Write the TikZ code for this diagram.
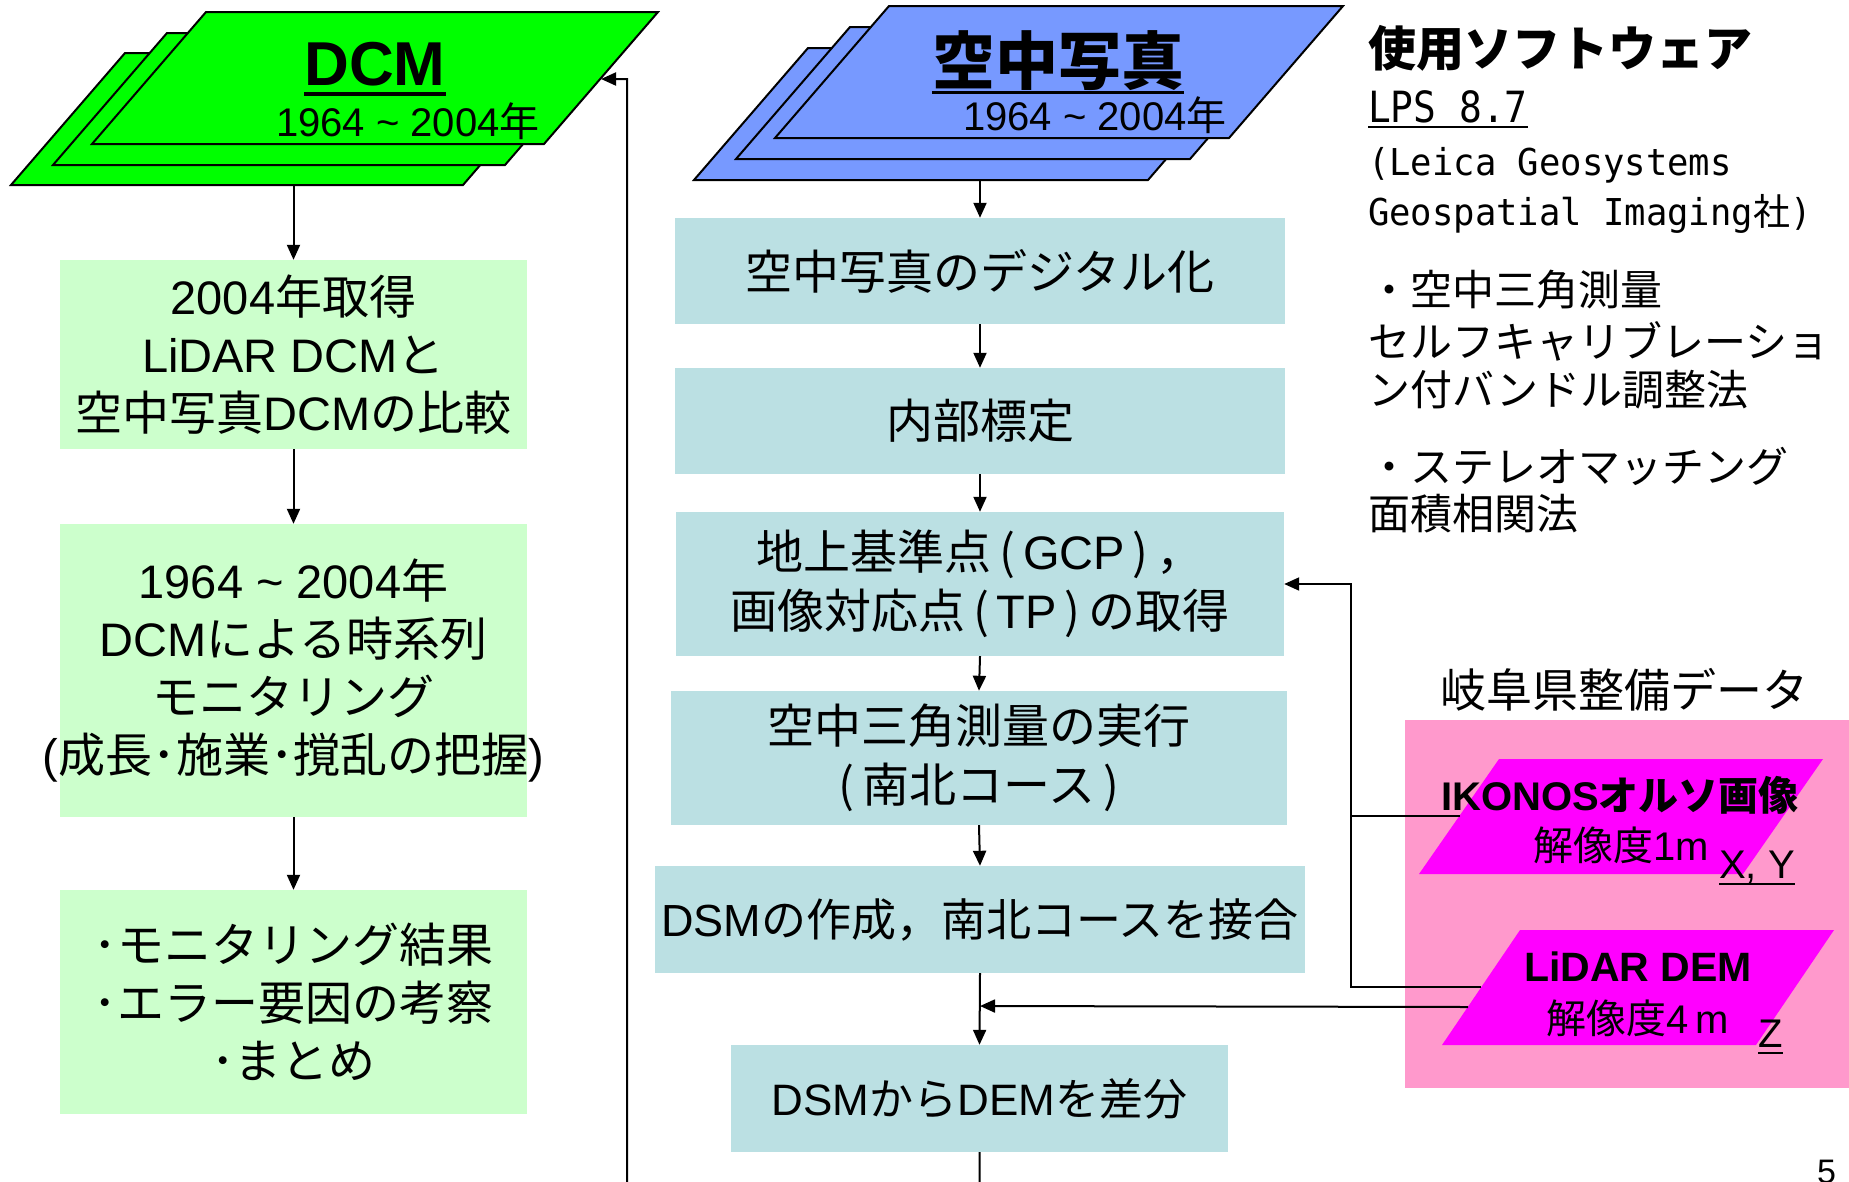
\documentclass[tikz,border=0pt]{standalone}
\usepackage{fontspec}
\setmainfont{Noto Sans CJK JP}
\newfontfamily\jp{Noto Sans CJK JP}
\newfontfamily\ar{Liberation Sans}
\newfontfamily\mo{DejaVu Sans Mono}[FakeStretch=0.88]
\newfontfamily\mob{DejaVu Sans Mono}[FakeStretch=0.96]
\usetikzlibrary{arrows.meta}
\definecolor{dcmgreen}{HTML}{00FF00}
\definecolor{photoblue}{HTML}{7799FF}
\definecolor{lgreen}{HTML}{CCFFCC}
\definecolor{lblue}{HTML}{BBE0E3}
\definecolor{pinkbg}{HTML}{FF99CC}
\definecolor{mag}{HTML}{FF00FF}
\newcommand\A[1]{{\ar #1}}
\newcommand\fs[2]{\fontsize{#1}{#2}\selectfont}
% parallelogram: style, x of bottom-left, y of bottom, width, height, skew
\newcommand\para[6]{\path[#1] (#2,#3) -- ++(#4,0) -- ++(#6,-#5) -- ++(-#4,0) -- cycle;}
\begin{document}
\begin{tikzpicture}[x=1pt,y=-1pt,
  lbox/.style={fill=lgreen, inner sep=0pt, align=center, font=\jp\fs{47}{58}},
  mbox/.style={fill=lblue, inner sep=0pt, align=center, font=\jp\fs{47}{59}},
  arr/.style={line width=2pt, -{Triangle[length=15pt,width=13pt]}},
  ln/.style={line width=2pt},
  txt/.style={inner sep=0pt, anchor=base},
  txtw/.style={inner sep=0pt, anchor=base west},
  greenpara/.style={fill=dcmgreen, draw=black, line width=2pt, line join=miter},
  bluepara/.style={fill=photoblue, draw=black, line width=2pt, line join=miter},
  magpara/.style={fill=mag}]
\useasboundingbox (0,0) rectangle (1849,1181);

% ---------- DCM stack ----------
\para{greenpara}{11}{185}{452}{132}{114}
\para{greenpara}{53}{165}{452}{132}{114}
\para{greenpara}{92}{144}{452}{132}{114}
\node[txt, font=\ar\bfseries\fs{62}{62}] (dcmT) at (375,85) {DCM};
\draw[line width=4pt] ([yshift=-9pt]dcmT.base west) -- ([yshift=-9pt]dcmT.base east);
\node[txt, font=\ar\fs{40}{40}] (dcmY) at (408,136) {1964 \textasciitilde{} 2004{\jp 年}};
\coordinate (dcmS) at (293.5,185);
\coordinate (dcmE) at (601,79);

% ---------- aerial photo stack ----------
\para{bluepara}{694}{180}{454}{132}{114}
\para{bluepara}{736}{159}{454}{132}{114}
\para{bluepara}{775}{138}{454}{132}{114}
\node[txt, font=\jp\bfseries\fs{63}{63}] (kuT) at (1058,84) {空中写真};
\draw[line width=3pt] ([yshift=-8pt]kuT.base west) -- ([yshift=-8pt]kuT.base east);
\node[txt, font=\ar\fs{40}{40}] (kuY) at (1095,130) {1964 \textasciitilde{} 2004{\jp 年}};
\coordinate (kuS) at (980,180);

% ---------- left column ----------
\node[lbox, minimum width=467pt, minimum height=189pt] (L1) at (293.5,354.5)
  {\A{2004}年取得\\\A{LiDAR DCM}と\\空中写真\A{DCM}の比較};
\node[lbox, minimum width=467pt, minimum height=293pt] (L2) at (293.5,670.5)
  {\A{1964 \textasciitilde{} 2004}年\\\A{DCM}による時系列\\モニタリング\\\makebox[0pt][c]{\A{(}成長･施業･撹乱の把握\A{)}}};
\node[lbox, minimum width=467pt, minimum height=224pt] (L3) at (293.5,1002)
  {･モニタリング結果\\･エラー要因の考察\\･まとめ};

% ---------- middle column ----------
\node[mbox, minimum width=610pt, minimum height=106pt] (M1) at (980,271) {空中写真のデジタル化};
\node[mbox, minimum width=610pt, minimum height=106pt] (M2) at (980,421) {内部標定};
\node[mbox, minimum width=608pt, minimum height=144pt] (M3) at (980,584)
  {地上基準点\,(\,\A{GCP}\,)\,，\\画像対応点\,(\,\A{TP}\,)\,の取得};
\node[mbox, minimum width=616pt, minimum height=134pt] (M4) at (979,758)
  {空中三角測量の実行\\(\,南北コース\,)};
\node[mbox, minimum width=650pt, minimum height=107pt, font=\jp\fs{45}{58}] (M5) at (980,919.5)
  {\A{DSM}の作成，南北コースを接合};
\node[mbox, minimum width=497pt, minimum height=107pt, font=\jp\fs{44}{58}] (M6) at (979.5,1098.5)
  {\A{DSM}から\A{DEM}を差分};
\coordinate (J) at (980,1006);

% ---------- right panel: software ----------
\node[txtw, font=\jp\bfseries\fs{48}{48}] (swT) at (1368,66) {使用ソフトウェア};
\node[txtw, font=\mo\fs{43}{43}] (lps) at (1368,122) {LPS 8.7};
\draw[line width=2pt] ([yshift=-5pt]lps.base west) -- ([yshift=-5pt]lps.base east);
\node[txtw, font=\mob\fs{37}{37}] (leica) at (1368,175) {(Leica Geosystems};
\node[txtw, font=\mob\fs{37}{37}] (geo) at (1368,225) {Geospatial Imaging{\jp 社})};
\node[txtw, font=\jp\fs{42}{42}] (b1) at (1368,305) {・空中三角測量};
\node[txtw, font=\jp\fs{42}{42}] (b2) at (1368,357) {セルフキャリブレーショ};
\node[txtw, font=\jp\fs{42}{42}] (b3) at (1368,405) {ン付バンドル調整法};
\node[txtw, font=\jp\fs{42}{42}] (b4) at (1368,482) {・ステレオマッチング};
\node[txtw, font=\jp\fs{42}{42}] (b5) at (1368,529) {面積相関法};

% ---------- right panel: Gifu data ----------
\node[txt, font=\jp\fs{46}{46}] (gifu) at (1624,707) {岐阜県整備データ};
\fill[pinkbg] (1405,720) rectangle (1860,1088);
\para{magpara}{1419}{874}{324}{115}{80}
\para{magpara}{1442}{1045}{314}{115}{78}
\coordinate (ikW) at (1460,816);
\coordinate (ldW) at (1481,987);
\coordinate (ldW2) at (1468,1007);

% ---------- connectors ----------
\draw[arr] (dcmS) -- (L1.north);
\draw[arr] (L1.south) -- (L2.north);
\draw[arr] (L2.south) -- (L3.north);
\draw[arr] (kuS) -- (M1.north);
\draw[arr] (M1.south) -- (M2.north);
\draw[arr] (M2.south) -- (M3.north);
\draw[arr] (M3.south) -- (M4.north);
\draw[arr] (M4.south) -- (M5.north);
\draw[arr] (M5.south) -- (M6.north);
\draw[arr] (M6.south) -- (980,1240) -- (627,1240) -- (627,79) -- (dcmE);
\draw[arr] (ldW) -- (1351,987) -- (1351,584) -- (M3.east);
\draw[ln] (ikW) -- (1351,816);
\draw[arr] (ldW2) -- (J);

% ---------- texts on magenta shapes ----------
\node[txt, font=\jp\bfseries\fs{40}{40}] (ikT) at (1620,810) {\A{IKONOS}オルソ画像};
\node[txt, font=\jp\fs{40}{40}] (ikR) at (1621,860) {解像度\A{1m}};
\node[txtw, font=\ar\fs{40}{40}] (xy) at (1719,878) {X, Y};
\draw[line width=2pt] ([yshift=-6pt]xy.base west) -- ([yshift=-6pt]xy.base east);
\node[txt, font=\ar\bfseries\fs{41}{41}] (ldT) at (1638,981) {LiDAR DEM};
\node[txt, font=\jp\fs{40}{40}] (ldR) at (1638,1033) {解像度\A{4\,m}};
\node[txtw, font=\ar\fs{40}{40}] (zz) at (1758,1047) {Z};
\draw[line width=2pt] ([yshift=-6pt]zz.base west) -- ([yshift=-6pt]zz.base east);

% page number
\node[txtw, font=\ar\fs{34}{34}] (pg) at (1817,1183) {5};
\end{tikzpicture}
\end{document}
